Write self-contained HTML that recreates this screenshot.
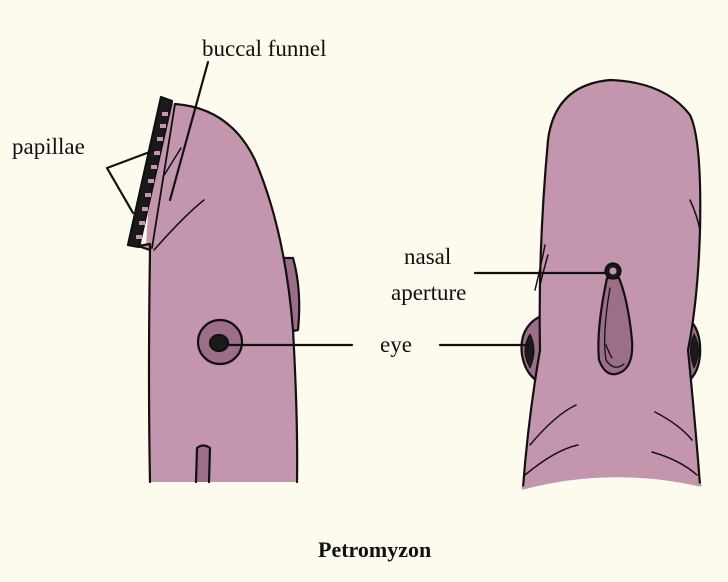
<!DOCTYPE html>
<html><head><meta charset="utf-8"><style>
html,body{margin:0;padding:0;background:#fdfbee;}
svg{display:block}
text{font-family:"Liberation Serif",serif;fill:#111}
</style></head><body>
<svg width="728" height="582" viewBox="0 0 728 582" xmlns="http://www.w3.org/2000/svg">
<rect width="728" height="582" fill="#fdfbee"/>
<g stroke="#111" stroke-width="2.2" stroke-linejoin="round" stroke-linecap="round">
<!-- left body bump -->
<path d="M283,258 L293,258 Q302,290 298,330 L288,332 Z" fill="#9c6e88"/>
<!-- left body -->
<path d="M162,100 L175,104 Q230,108 255,160 Q285,230 293,330 Q298,420 297,482 L150,482 Q148,380 150,250 L146,245 Q150,170 162,100 Z" fill="#c496ad" stroke="none"/>
<path d="M175,104 Q230,108 255,160 Q285,230 293,330 Q298,420 297,482" fill="none"/>
<path d="M150,482 Q148,380 150,250" fill="none"/>
<path d="M150,250 L138,246 L150,244 Z" fill="#c496ad"/>
<path d="M161,97 L172,101 L139,247 L128,245 Z" fill="#1a1a1a"/>
<g fill="#c496ad" stroke="none">
<rect x="162" y="112" width="6" height="4"/><rect x="160" y="124" width="6" height="4"/>
<rect x="157" y="137" width="6" height="4"/><rect x="154" y="151" width="6" height="4"/>
<rect x="151" y="165" width="6" height="4"/><rect x="148" y="179" width="6" height="4"/>
<rect x="145" y="193" width="6" height="4"/><rect x="142" y="207" width="6" height="4"/>
<rect x="139" y="221" width="6" height="4"/><rect x="136" y="235" width="6" height="4"/>
</g>
<path d="M175,104 L152,248" fill="none" stroke-width="1.8"/>
<path d="M163,177 L181,148" fill="none" stroke-width="1.5"/>
<path d="M154,250 Q185,215 204,200" fill="none" stroke-width="1.5"/>
<!-- eye left -->
<circle cx="220" cy="342" r="22" fill="#9c6e88"/>
<ellipse cx="219" cy="343" rx="9" ry="8" fill="#1a1a1a"/>
<path d="M228,345 L352,345" fill="none"/>
<!-- tube -->
<path d="M196,482 L197,448 Q203,443 210,448 L209,482" fill="#9c6e88"/>
<!-- labels lines -->
<path d="M208,62 L170,200" fill="none"/>
<path d="M107,168 L155,150 M107,168 L133,213" fill="none"/>

<!-- right body eyes -->
<path d="M545,314 Q518,325 522,355 Q526,378 545,385 Z" fill="#9c6e88"/>
<path d="M682,314 Q702,325 700,355 Q698,378 682,385 Z" fill="#9c6e88"/>
<path d="M530,334 Q520,350 530,368 Q538,350 530,334 Z" fill="#1a1a1a" stroke-width="1"/>
<path d="M694,334 Q703,350 694,368 Q687,350 694,334 Z" fill="#1a1a1a" stroke-width="1"/>
<!-- right body -->
<path d="M548,140 Q555,85 610,80 Q665,82 690,115 Q702,140 700,230 Q698,300 688,350 Q695,420 700,485 Q610,465 523,488 Q528,420 540,350 Q538,250 548,140 Z" fill="#c496ad"/>
<path d="M523,488 Q610,465 700,485" fill="none" stroke="#c496ad" stroke-width="3"/>
<path d="M535,290 Q540,270 545,245 M540,285 Q545,265 548,255" fill="none" stroke-width="1.5"/>
<path d="M530,445 Q555,415 576,405 M525,475 Q555,450 578,445 M655,412 Q680,425 692,440 M652,452 Q680,460 697,475" fill="none" stroke-width="1.5"/>
<path d="M690,200 Q697,215 700,230" fill="none" stroke-width="1.5"/>
<!-- nasal -->
<path d="M607,278 Q596,330 599,360 Q605,376 616,374 Q634,370 632,340 Q628,300 619,278 Z" fill="#9c6e88"/>
<path d="M610,288 Q602,335 606,360 Q614,372 624,364 M606,345 Q610,355 612,358" fill="none" stroke-width="1.3"/>
<circle cx="613" cy="271" r="7.5" fill="#1a1a1a"/>
<circle cx="613" cy="271" r="3.5" fill="#c496ad" stroke="none"/>
<path d="M475,273 L606,273 M440,345 L528,345" fill="none"/>
</g>
<text x="202" y="56" font-size="23">buccal funnel</text>
<text x="12" y="154" font-size="23">papillae</text>
<text x="404" y="264" font-size="23">nasal</text>
<text x="391" y="300" font-size="23">aperture</text>
<text x="380" y="352" font-size="23">eye</text>
<text x="318" y="557" font-size="22" font-weight="bold">Petromyzon</text>
</svg>
</body></html>
